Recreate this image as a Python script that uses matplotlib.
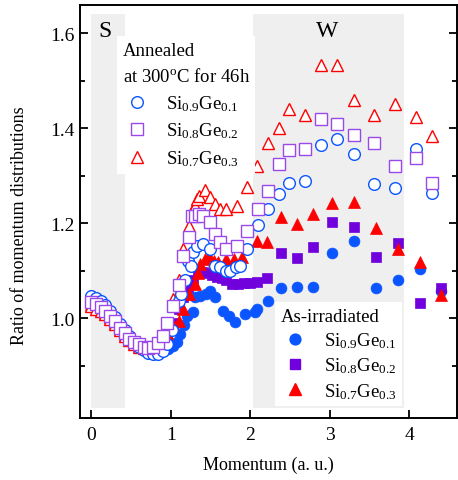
import numpy as np
import matplotlib
matplotlib.use("Agg")
import matplotlib.pyplot as plt
from matplotlib.ticker import FixedLocator
from matplotlib.lines import Line2D

plt.rcParams['font.family'] = ['Liberation Serif', 'DejaVu Serif']
plt.rcParams['mathtext.fontset'] = 'custom'
plt.rcParams['mathtext.rm'] = 'Liberation Serif'
plt.rcParams['mathtext.it'] = 'Liberation Serif:italic'

# %% DATA
# annealed at 300 C for 46h (open markers)
ann_09_x = [0.00, 0.06, 0.12, 0.18, 0.24, 0.30, 0.36, 0.42, 0.48, 0.54, 0.60, 0.66,
            0.72, 0.78, 0.84, 0.90, 0.96, 1.02, 1.10, 1.13, 1.18, 1.22, 1.25, 1.28,
            1.33, 1.41, 1.50, 1.56, 1.62, 1.69, 1.75, 1.82, 1.87, 1.96, 2.10, 2.23,
            2.36, 2.49, 2.69, 2.89, 3.09, 3.30, 3.56, 3.82, 4.09, 4.29]
ann_09_y = [1.046, 1.043, 1.036, 1.027, 1.015, 1.002, 0.988, 0.975, 0.962, 0.950, 0.940, 0.932,
            0.927, 0.925, 0.925, 0.930, 0.945, 0.975, 1.036, 1.050, 1.080, 1.120, 1.110, 1.140,
            1.152, 1.156, 1.145, 1.110, 1.107, 1.100, 1.099, 1.107, 1.110, 1.145, 1.196, 1.229,
            1.261, 1.285, 1.288, 1.364, 1.377, 1.345, 1.282, 1.274, 1.356, 1.263]

ann_08_x = [0.00, 0.06, 0.12, 0.18, 0.24, 0.30, 0.36, 0.42, 0.48, 0.54, 0.60, 0.66,
            0.72, 0.78, 0.84, 0.90, 0.96, 1.03, 1.10, 1.16, 1.23, 1.27, 1.31, 1.36,
            1.41, 1.50, 1.56, 1.62, 1.69, 1.84, 1.96, 2.10, 2.23, 2.36, 2.49, 2.69,
            2.89, 3.09, 3.30, 3.56, 3.82, 4.09, 4.29]
ann_08_y = [1.034, 1.030, 1.024, 1.016, 1.005, 0.993, 0.980, 0.968, 0.957, 0.950, 0.945, 0.940,
            0.938, 0.940, 0.948, 0.962, 0.990, 1.025, 1.070, 1.130, 1.170, 1.215, 1.215, 1.220,
            1.215, 1.202, 1.177, 1.160, 1.145, 1.152, 1.183, 1.230, 1.267, 1.324, 1.354, 1.356,
            1.419, 1.408, 1.385, 1.368, 1.320, 1.337, 1.284]

ann_07_x = [0.00, 0.06, 0.12, 0.18, 0.24, 0.30, 0.36, 0.42, 0.48, 0.54, 0.60, 0.66,
            0.72, 0.78, 0.84, 0.90, 0.96, 1.03, 1.10, 1.16, 1.23, 1.27, 1.30, 1.33,
            1.36, 1.43, 1.50, 1.56, 1.62, 1.70, 1.84, 1.96, 2.09, 2.23, 2.36, 2.49,
            2.69, 2.89, 3.09, 3.30, 3.56, 3.82, 4.09, 4.29]
ann_07_y = [1.025, 1.020, 1.015, 1.008, 0.998, 0.987, 0.975, 0.963, 0.953, 0.945, 0.940, 0.937,
            0.936, 0.940, 0.950, 0.965, 0.990, 1.040, 1.080, 1.145, 1.194, 1.225, 1.236, 1.250,
            1.257, 1.270, 1.255, 1.240, 1.230, 1.230, 1.236, 1.276, 1.320, 1.368, 1.400, 1.440,
            1.427, 1.533, 1.533, 1.459, 1.427, 1.450, 1.423, 1.383]

# as-irradiated (filled markers)
irr_09_x = [0.00, 0.06, 0.12, 0.18, 0.24, 0.30, 0.36, 0.42, 0.48, 0.54, 0.60, 0.66,
            0.72, 0.78, 0.84, 0.90, 0.97, 1.03, 1.08, 1.12, 1.17, 1.21, 1.28, 1.31,
            1.37, 1.44, 1.50, 1.56, 1.66, 1.73, 1.81, 1.94, 2.06, 2.09, 2.22, 2.39,
            2.59, 2.79, 3.03, 3.31, 3.58, 3.86, 4.13, 4.40]
irr_09_y = [1.040, 1.037, 1.031, 1.022, 1.011, 0.999, 0.986, 0.973, 0.962, 0.952, 0.944, 0.938,
            0.934, 0.932, 0.932, 0.933, 0.935, 0.941, 0.950, 0.966, 0.985, 1.004, 1.013, 1.044,
            1.046, 1.050, 1.057, 1.044, 1.015, 1.004, 0.992, 1.008, 1.013, 1.019, 1.036, 1.064,
            1.065, 1.065, 1.137, 1.162, 1.064, 1.080, 1.103, 1.057]

irr_08_x = [0.00, 0.06, 0.12, 0.18, 0.24, 0.30, 0.36, 0.42, 0.48, 0.54, 0.60, 0.66,
            0.72, 0.78, 0.84, 0.90, 0.96, 1.03, 1.10, 1.16, 1.22, 1.28, 1.34, 1.40,
            1.46, 1.52, 1.58, 1.64, 1.70, 1.77, 1.85, 1.92, 2.00, 2.08, 2.21, 2.39,
            2.59, 2.79, 3.03, 3.31, 3.58, 3.86, 4.13, 4.40]
irr_08_y = [1.035, 1.031, 1.025, 1.017, 1.006, 0.995, 0.983, 0.971, 0.960, 0.952, 0.946, 0.941,
            0.938, 0.938, 0.940, 0.945, 0.960, 0.990, 1.020, 1.045, 1.065, 1.080, 1.095, 1.098,
            1.095, 1.090, 1.087, 1.085, 1.080, 1.072, 1.072, 1.074, 1.075, 1.077, 1.084, 1.137,
            1.126, 1.150, 1.202, 1.192, 1.128, 1.158, 1.032, 1.063]

irr_07_x = [0.00, 0.06, 0.12, 0.18, 0.24, 0.30, 0.36, 0.42, 0.48, 0.54, 0.60, 0.66,
            0.72, 0.78, 0.84, 0.90, 0.96, 1.03, 1.10, 1.16, 1.23, 1.31, 1.34, 1.37,
            1.43, 1.48, 1.54, 1.60, 1.69, 1.80, 1.90, 2.09, 2.21, 2.39, 2.59, 2.79,
            3.03, 3.31, 3.58, 3.86, 4.14, 4.40]
irr_07_y = [1.030, 1.026, 1.020, 1.012, 1.002, 0.991, 0.979, 0.967, 0.957, 0.949, 0.944, 0.940,
            0.938, 0.940, 0.945, 0.952, 0.968, 0.985, 0.994, 1.019, 1.050, 1.072, 1.095, 1.114,
            1.124, 1.130, 1.120, 1.118, 1.124, 1.124, 1.128, 1.162, 1.160, 1.213, 1.198, 1.219,
            1.242, 1.244, 1.189, 1.145, 1.118, 1.048]

labels = [r'$\mathregular{Si_{0.9}Ge_{0.1}}$',
          r'$\mathregular{Si_{0.8}Ge_{0.2}}$',
          r'$\mathregular{Si_{0.7}Ge_{0.3}}$']

# shaded momentum regions
s_band = (0.0, 0.43)
w_band = (2.03, 3.94)
band_y = (0.81, 1.64)

# %% STYLE
blue = '#0a55ff'
purple_fill = '#7000dc'
purple_open = '#9a48ea'
red = '#ff0000'
ms = 8.4
fs = 13.5

fig = plt.figure(figsize=(4.58, 4.81), dpi=100)
ax = fig.add_axes([0.1747, 0.129, 0.823, 0.8585])

for band in (s_band, w_band):
    ax.fill_between(band, band_y[0], band_y[1], color='#efefef', lw=0, zorder=0)

ax.text(0.18, 1.605, 'S', fontsize=17, ha='center', va='center', zorder=1)
ax.text(2.97, 1.605, 'W', fontsize=17, ha='center', va='center', zorder=1)

# filled markers (as-irradiated)
ax.plot(irr_09_x, irr_09_y, 'o', ms=ms - 0.6, color=blue, mec=blue, mew=0.5, zorder=2)
ax.plot(irr_08_x, irr_08_y, 's', ms=ms - 1.0, color=purple_fill, mec=purple_fill, mew=0.5, zorder=2)
ax.plot(irr_07_x, irr_07_y, '^', ms=ms, color=red, mec=red, mew=0.5, zorder=2)

# open markers (annealed)
ax.plot(ann_07_x, ann_07_y, '^', ms=ms + 0.4, mfc='white', mec=red, mew=1.0, zorder=3)
ax.plot(ann_09_x, ann_09_y, 'o', ms=ms, mfc='white', mec=blue, mew=1.0, zorder=3)
ax.plot(ann_08_x, ann_08_y, 's', ms=ms - 0.4, mfc='white', mec=purple_open, mew=1.0, zorder=3)

ax.set_xlim(-0.14, 4.6)
ax.set_ylim(0.79, 1.659)
ax.xaxis.set_major_locator(FixedLocator([0, 1, 2, 3, 4]))
ax.yaxis.set_major_locator(FixedLocator([1.0, 1.2, 1.4, 1.6]))
ax.yaxis.set_minor_locator(FixedLocator([0.9, 1.1, 1.3, 1.5]))
ax.set_yticklabels(['1.0', '1.2', '1.4', '1.6'])
ax.tick_params(axis='both', which='both', direction='in', right=True, top=False,
               labelsize=14, width=1.3)
ax.tick_params(axis='x', which='major', length=6, pad=6)
ax.tick_params(axis='y', which='major', length=6, pad=4)
ax.tick_params(axis='y', which='minor', length=3.5)
for sp in ax.spines.values():
    sp.set_linewidth(1.4)

ax.set_xlabel('Momentum (a. u.)', fontsize=13, labelpad=9)
ax.set_ylabel('Ratio of momentum distributions', fontsize=13)
ax.yaxis.set_label_coords(-0.138, 0.467)

# legends
open_handles = [
    Line2D([], [], ls='none', marker='o', ms=ms, mfc='white', mec=blue, mew=1.0),
    Line2D([], [], ls='none', marker='s', ms=ms - 0.4, mfc='white', mec=purple_open, mew=1.0),
    Line2D([], [], ls='none', marker='^', ms=ms + 0.4, mfc='white', mec=red, mew=1.0),
]
filled_handles = [
    Line2D([], [], ls='none', marker='o', ms=ms - 0.6, color=blue),
    Line2D([], [], ls='none', marker='s', ms=ms - 1.0, color=purple_fill),
    Line2D([], [], ls='none', marker='^', ms=ms, color=red),
]
leg_kw = dict(loc='upper left', bbox_transform=fig.transFigure, borderaxespad=0,
              fontsize=fs, title_fontsize=fs, alignment='left', frameon=True,
              fancybox=False, framealpha=1, edgecolor='none', facecolor='white',
              borderpad=0.3, handlelength=1.5, handletextpad=0.8)
leg1 = ax.legend(open_handles, labels, title='Annealed\nat 300$^{\\mathregular{o}}$C for 46h',
                 bbox_to_anchor=(117 / 458, 1 - 37 / 481), labelspacing=0.42, **leg_kw)
leg1.get_title().set_linespacing(1.62)
ax.add_artist(leg1)
leg2 = ax.legend(filled_handles, labels, title='As-irradiated',
                 bbox_to_anchor=(275 / 458, 1 - 303 / 481), labelspacing=0.3, **leg_kw)

fig.savefig('out.png', dpi=100)
